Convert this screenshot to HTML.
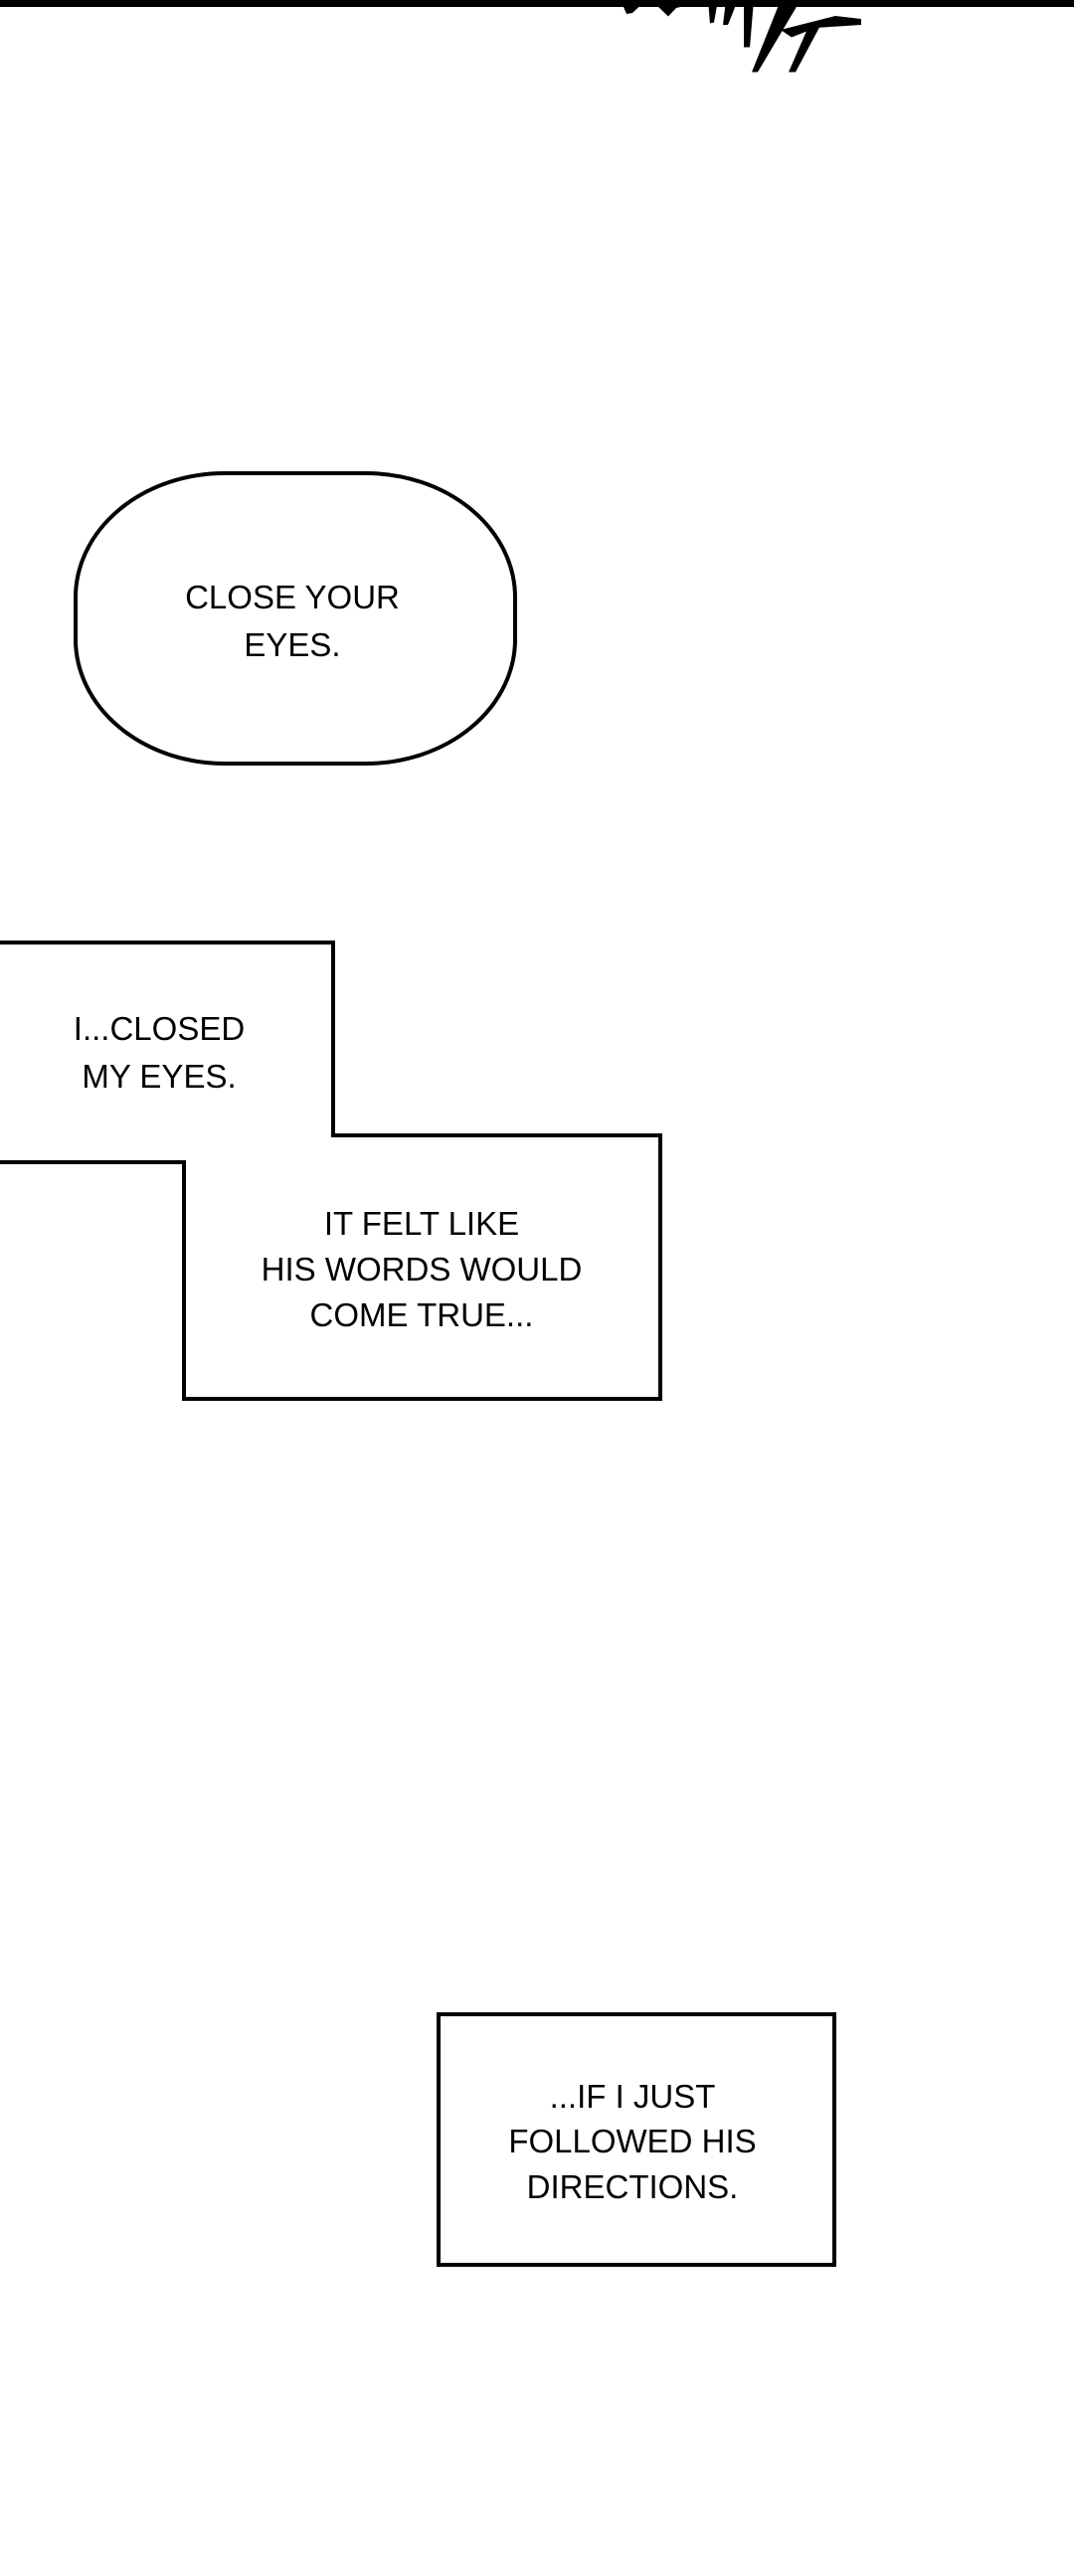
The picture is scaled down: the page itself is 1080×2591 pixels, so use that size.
<!DOCTYPE html>
<html><head><meta charset="utf-8"><style>
html,body{margin:0;padding:0;background:#fff;}
body{width:1080px;height:2591px;position:relative;overflow:hidden;}
svg{position:absolute;left:0;top:0;}
text{font-family:"Liberation Sans",sans-serif;font-size:33px;fill:#000;text-anchor:middle;}
</style></head><body>
<svg width="1080" height="2591" viewBox="0 0 1080 2591">
<rect x="0" y="0" width="1080" height="7" fill="#000"/>
<g fill="#000" transform="scale(1,0.5)">
<path d="M624 0 L650 0 L636 26 L630 28 Z"/>
<path d="M660 10 L690 0 L705 4 L680 16 L672 33 Z"/>
<path d="M712 0 L722 0 L718 45 L714 47 Z"/>
<path d="M730 0 L742 0 L732 50 L727 50 Z"/>
<path d="M748 0 L758 0 L754 95 L748 95 Z"/>
<path d="M785 0 L805 0 L762 145 L756 145 Z"/>
<path d="M785 60 L840 32 L866 38 L866 50 L820 56 L796 75 Z"/>
<path d="M812 58 L824 55 L800 145 L793 145 Z"/>
</g>
<rect x="76" y="476" width="442" height="292" rx="150" ry="125" fill="#fff" stroke="#000" stroke-width="4"/>
<text x="294" y="612">CLOSE YOUR</text>
<text x="294" y="660">EYES.</text>
<path d="M0 948 L335 948 L335 1142 L664 1142 L664 1407 L185 1407 L185 1169 L0 1169" fill="#fff" stroke="#000" stroke-width="4"/>
<text x="160" y="1046">I...CLOSED</text>
<text x="160" y="1094">MY EYES.</text>
<text x="424" y="1242">IT FELT LIKE</text>
<text x="424" y="1288">HIS WORDS WOULD</text>
<text x="424" y="1334">COME TRUE...</text>
<rect x="441" y="2026" width="398" height="252" fill="#fff" stroke="#000" stroke-width="4"/>
<text x="636" y="2120">...IF I JUST</text>
<text x="636" y="2165">FOLLOWED HIS</text>
<text x="636" y="2211">DIRECTIONS.</text>
</svg>
</body></html>
